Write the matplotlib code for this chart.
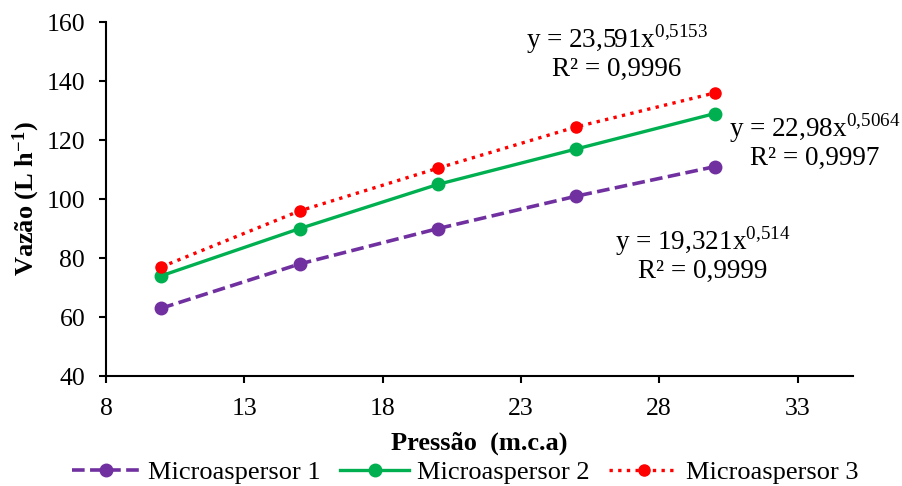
import matplotlib
matplotlib.use('Agg')
import matplotlib.pyplot as plt

plt.rcParams['font.family'] = ['Liberation Serif', 'DejaVu Serif']
plt.rcParams['mathtext.fontset'] = 'custom'
plt.rcParams['mathtext.rm'] = 'Liberation Serif'
plt.rcParams['mathtext.bf'] = 'Liberation Serif:bold'

pressao = [10, 15, 20, 25, 30]
micro1 = [63, 78, 90, 101, 111]
micro2 = [74, 90, 105, 117, 129]
micro3 = [77, 96, 110.5, 124.5, 136]
labels = ['Microaspersor 1', 'Microaspersor 2', 'Microaspersor 3']
equacoes = [r'y = 19,321x$^{\mathregular{0{,}514}}$',
            r'y = 22,98x$^{\mathregular{0{,}5064}}$',
            r'y = 23,591x$^{\mathregular{0{,}5153}}$']
r2 = ['R² = 0,9999', 'R² = 0,9997', 'R² = 0,9996']
xticks = [8, 13, 18, 23, 28, 33]
yticks = [40, 60, 80, 100, 120, 140, 160]

fig = plt.figure(figsize=(9.02, 4.86), dpi=100)
ax = fig.add_axes([0.1175, 0.2263, 0.828, 0.728])

ax.plot(pressao, micro1, color='#7030A0', ls=(0, (3.5, 1.5)), lw=2.6,
        marker='o', ms=9, label=labels[0])
ax.plot(pressao, micro2, color='#00B050', ls='-', lw=2.4,
        marker='o', ms=9, label=labels[1])
ax.plot(pressao, micro3, color='#FF0000', ls=(0, (1, 1.6)), lw=2.4,
        marker='o', ms=8, label=labels[2])

ax.set_xlim(8, 35)
ax.set_ylim(40, 160)
ax.set_xticks(xticks)
ax.set_yticks(yticks)
ax.tick_params(labelsize=18.5, width=1.5, length=5, direction='out', colors='black')
ax.tick_params(axis='x', pad=11)
ax.tick_params(axis='y', pad=10)
for s in ['top', 'right']:
    ax.spines[s].set_visible(False)
for s in ['left', 'bottom']:
    ax.spines[s].set_linewidth(1.5)

ax.set_xlabel('Pressão  (m.c.a)', fontsize=19, fontweight='bold', labelpad=8)
ax.set_ylabel(r'Vazão (L h$\mathbf{^{-1}}$)', fontsize=19, fontweight='bold', labelpad=3)

# posicoes das equacoes (pixels do topo-esquerda)
pos = [(703, 254), (815, 141), (617, 52)]
for eq, r, (px, py) in zip(equacoes, r2, pos):
    fig.text(px / 902, 1 - py / 486, eq + '\n' + r, fontsize=19.5, ha='center',
             va='center', multialignment='center', linespacing=1.0)

fig.legend(loc='center', bbox_to_anchor=(465 / 902, 1 - 472 / 486), ncol=3, frameon=False,
           fontsize=19, handlelength=2.6, columnspacing=0.75, handletextpad=0.3,
           borderaxespad=0)

fig.savefig('out.png', dpi=100)
